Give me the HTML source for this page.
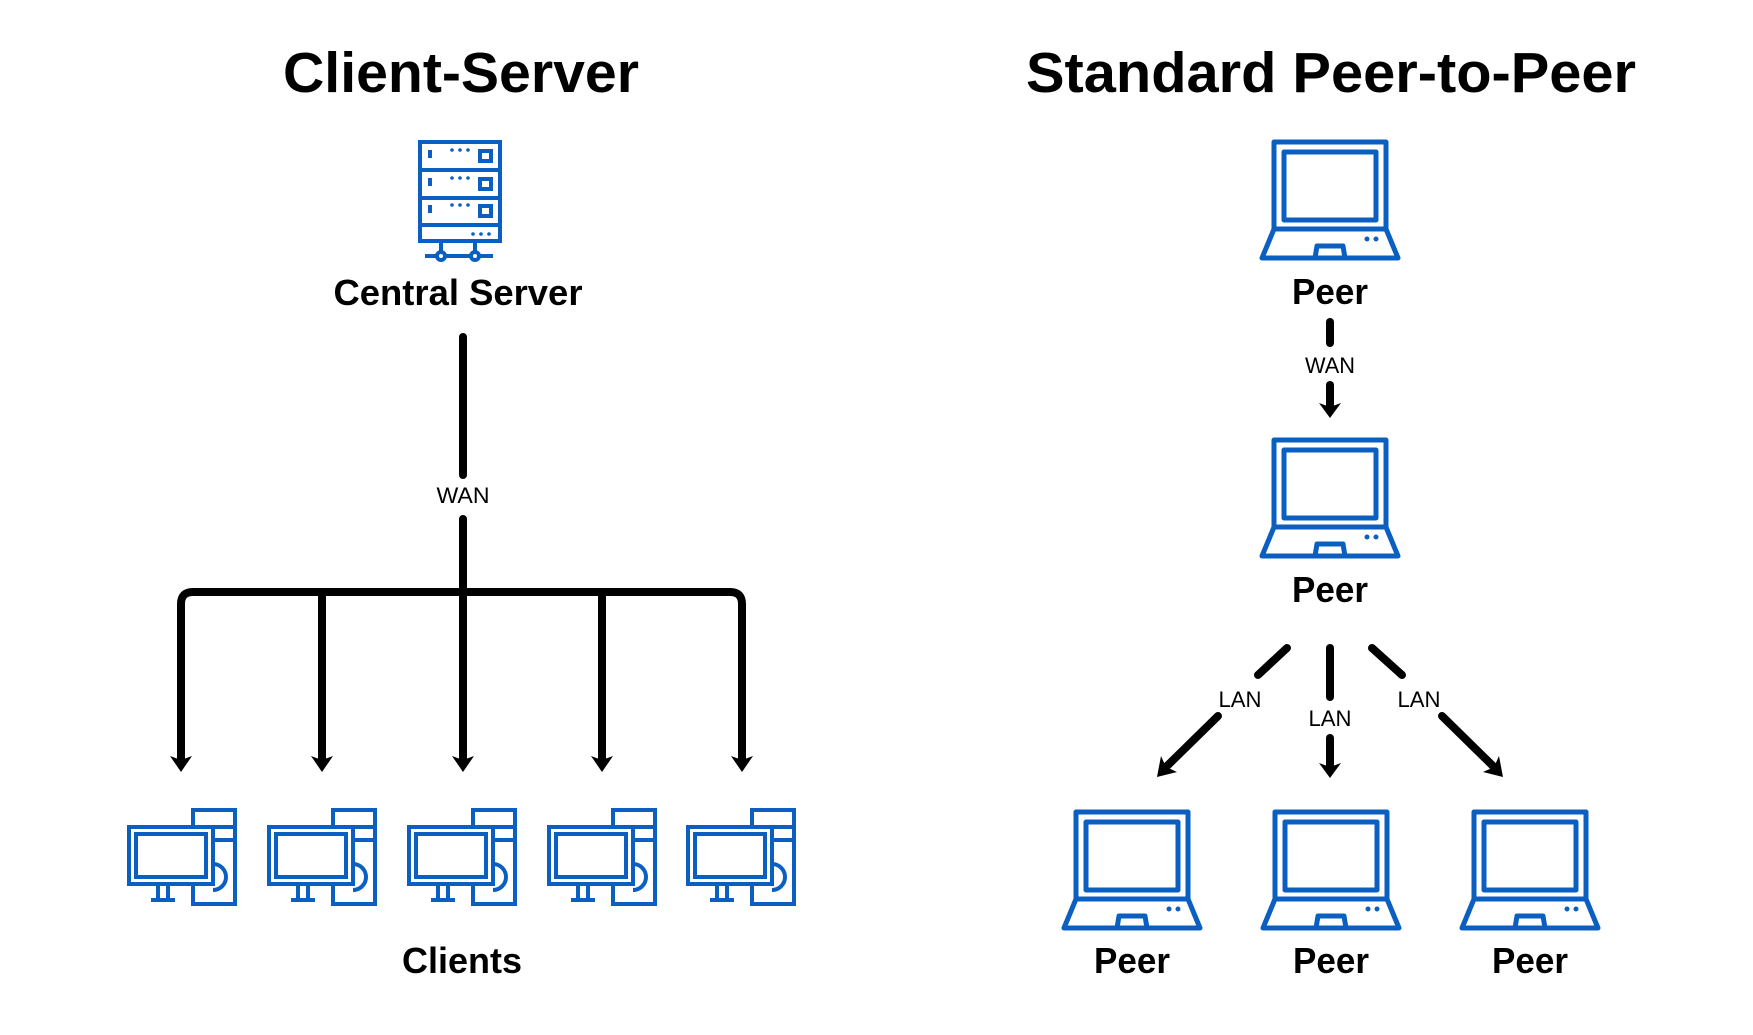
<!DOCTYPE html>
<html><head><meta charset="utf-8"><style>
html,body{margin:0;padding:0;background:#fff;}
svg{display:block;}
text{font-family:"Liberation Sans",sans-serif;fill:#000;}
</style></head><body>
<svg width="1753" height="1035" viewBox="0 0 1753 1035" xmlns="http://www.w3.org/2000/svg">
<defs>
<g id="laptop" fill="none" stroke="#0a5fc0" stroke-width="5" stroke-linejoin="round">
  <rect x="-56" y="0" width="112" height="87"/>
  <rect x="-46" y="10" width="92" height="68"/>
  <path d="M-56 87 L-68 116 L68 116 L56 87"/>
  <path d="M-15 116 L-13 104 L13 104 L15 116"/>
  <circle cx="37" cy="97" r="1.5" fill="#0a5fc0" stroke-width="2"/>
  <circle cx="46" cy="97" r="1.5" fill="#0a5fc0" stroke-width="2"/>
</g>
<g id="pc" fill="none" stroke="#0a5fc0" stroke-width="4">
  <rect x="11" y="-30" width="42" height="94" fill="#fff"/>
  <line x1="11" y1="-13" x2="53" y2="-13"/>
  <line x1="11" y1="0" x2="53" y2="0"/>
  <path d="M31 24 A13 13 0 0 1 31 50"/>
  <rect x="-53" y="-13" width="84" height="57" fill="#fff"/>
  <rect x="-46" y="-6" width="70" height="43"/>
  <path d="M-24 44 L-24 58 M-14 44 L-14 58 M-31 60 L-7 60"/>
</g>
</defs>

<text x="461" y="92" font-size="57" font-weight="bold" text-anchor="middle" textLength="356" lengthAdjust="spacingAndGlyphs">Client-Server</text>
<text x="1331" y="92" font-size="57" font-weight="bold" text-anchor="middle" textLength="610" lengthAdjust="spacingAndGlyphs">Standard Peer-to-Peer</text>

<g fill="none" stroke="#0a5fc0" stroke-width="4">
  <rect x="420" y="142" width="80" height="99"/>
  <line x1="420" y1="170" x2="500" y2="170"/>
  <line x1="420" y1="198" x2="500" y2="198"/>
  <line x1="420" y1="225" x2="500" y2="225"/>
  <rect x="480" y="151" width="11" height="10"/>
  <rect x="480" y="179" width="11" height="10"/>
  <rect x="480" y="206" width="11" height="10"/>
  <line x1="430" y1="150" x2="430" y2="158"/>
  <line x1="430" y1="178" x2="430" y2="186"/>
  <line x1="430" y1="205" x2="430" y2="213"/>
  <line x1="441" y1="241" x2="441" y2="252"/>
  <line x1="475" y1="241" x2="475" y2="252"/>
  <line x1="425" y1="256" x2="493" y2="256"/>
  <circle cx="441" cy="256" r="4" fill="#fff"/>
  <circle cx="475" cy="256" r="4" fill="#fff"/>
</g>
<g fill="#0a5fc0">
  <circle cx="452" cy="150" r="1.8"/><circle cx="460" cy="150" r="1.8"/><circle cx="468" cy="150" r="1.8"/>
  <circle cx="452" cy="178" r="1.8"/><circle cx="460" cy="178" r="1.8"/><circle cx="468" cy="178" r="1.8"/>
  <circle cx="452" cy="205" r="1.8"/><circle cx="460" cy="205" r="1.8"/><circle cx="468" cy="205" r="1.8"/>
  <circle cx="473" cy="234" r="1.8"/><circle cx="481" cy="234" r="1.8"/><circle cx="489" cy="234" r="1.8"/>
</g>
<text x="458" y="305" font-size="36" font-weight="bold" text-anchor="middle" textLength="249" lengthAdjust="spacingAndGlyphs">Central Server</text>

<g stroke="#000" stroke-width="8" fill="none" stroke-linecap="round">
  <line x1="463" y1="337" x2="463" y2="475"/>
  <line x1="463" y1="519" x2="463" y2="592"/>
  <path d="M181 762 L181 604 Q181 592 193 592 L730 592 Q742 592 742 604 L742 762" stroke-linecap="butt"/>
  <line x1="322" y1="592" x2="322" y2="762" stroke-linecap="butt"/>
  <line x1="463" y1="592" x2="463" y2="762" stroke-linecap="butt"/>
  <line x1="602" y1="592" x2="602" y2="762" stroke-linecap="butt"/>
</g>
<text x="463" y="503" font-size="22" text-anchor="middle" textLength="53" lengthAdjust="spacingAndGlyphs">WAN</text>
<g fill="#000">
  <path d="M170 756 L181 760 L192 756 L181 772 Z"/>
  <path d="M311 756 L322 760 L333 756 L322 772 Z"/>
  <path d="M452 756 L463 760 L474 756 L463 772 Z"/>
  <path d="M591 756 L602 760 L613 756 L602 772 Z"/>
  <path d="M731 756 L742 760 L753 756 L742 772 Z"/>
</g>

<use href="#pc" x="182" y="840"/>
<use href="#pc" x="322" y="840"/>
<use href="#pc" x="462" y="840"/>
<use href="#pc" x="602" y="840"/>
<use href="#pc" x="741" y="840"/>
<text x="462" y="973" font-size="36" font-weight="bold" text-anchor="middle" textLength="120" lengthAdjust="spacingAndGlyphs">Clients</text>

<use href="#laptop" x="1330" y="142"/>
<text x="1330" y="304" font-size="36" font-weight="bold" text-anchor="middle" textLength="76" lengthAdjust="spacingAndGlyphs">Peer</text>
<g stroke="#000" stroke-width="8" fill="none" stroke-linecap="round">
  <line x1="1330" y1="322" x2="1330" y2="343"/>
  <line x1="1330" y1="385" x2="1330" y2="406"/>
  <line x1="1287" y1="648" x2="1258" y2="675"/>
  <line x1="1218" y1="716" x2="1166" y2="767"/>
  <line x1="1330" y1="648" x2="1330" y2="697"/>
  <line x1="1330" y1="738" x2="1330" y2="766"/>
  <line x1="1372" y1="648" x2="1402" y2="675"/>
  <line x1="1442" y1="716" x2="1494" y2="767"/>
</g>
<text x="1330" y="373" font-size="22" text-anchor="middle" textLength="50" lengthAdjust="spacingAndGlyphs">WAN</text>
<g fill="#000">
  <path d="M1319 403 L1330 407 L1341 403 L1330 418 Z"/>
  <path d="M1319 763 L1330 767 L1341 763 L1330 778 Z"/>
  <path d="M1157 777 L1161 756 L1166 767 L1177 772 Z"/>
  <path d="M1503 777 L1499 756 L1494 767 L1483 772 Z"/>
</g>
<use href="#laptop" x="1330" y="440"/>
<text x="1330" y="602" font-size="36" font-weight="bold" text-anchor="middle" textLength="76" lengthAdjust="spacingAndGlyphs">Peer</text>
<text x="1240" y="707" font-size="22" text-anchor="middle" textLength="43" lengthAdjust="spacingAndGlyphs">LAN</text>
<text x="1330" y="726" font-size="22" text-anchor="middle" textLength="43" lengthAdjust="spacingAndGlyphs">LAN</text>
<text x="1419" y="707" font-size="22" text-anchor="middle" textLength="43" lengthAdjust="spacingAndGlyphs">LAN</text>

<use href="#laptop" x="1132" y="812"/>
<use href="#laptop" x="1331" y="812"/>
<use href="#laptop" x="1530" y="812"/>
<text x="1132" y="973" font-size="36" font-weight="bold" text-anchor="middle" textLength="76" lengthAdjust="spacingAndGlyphs">Peer</text>
<text x="1331" y="973" font-size="36" font-weight="bold" text-anchor="middle" textLength="76" lengthAdjust="spacingAndGlyphs">Peer</text>
<text x="1530" y="973" font-size="36" font-weight="bold" text-anchor="middle" textLength="76" lengthAdjust="spacingAndGlyphs">Peer</text>
</svg>
</body></html>
